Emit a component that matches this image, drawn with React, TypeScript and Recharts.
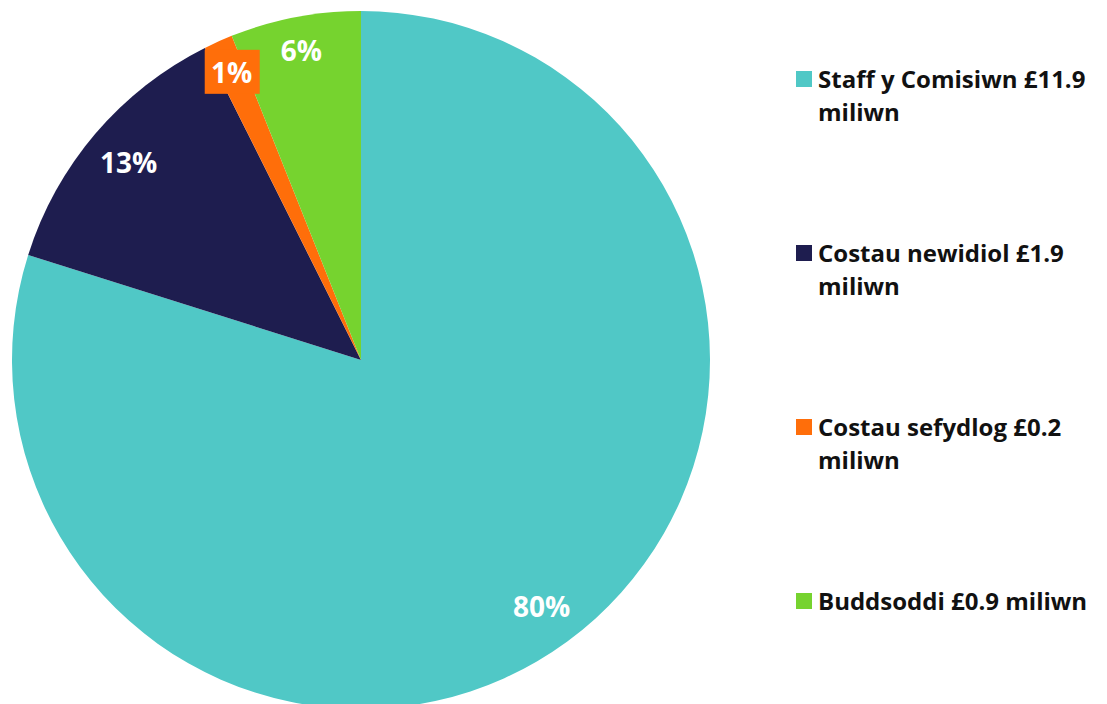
import { PieChart, Pie, Cell, Legend } from 'recharts';

const names = ['Staff y Comisiwn', 'Costau newidiol', 'Costau sefydlog', 'Buddsoddi'];
const values = [11.9, 1.9, 0.2, 0.9];
const colors = ['#50C8C6', '#1E1D4F', '#FF6E0A', '#76D32F'];

const data = names.map((name, i) => ({ name, value: values[i] }));

const FONT = '"Open Sans", Lato, sans-serif';
const RADIAN = Math.PI / 180;

function renderLabel(props: any) {
  const { cx, cy, midAngle, outerRadius, percent, index } = props;
  const r = outerRadius * (percent < 0.1 ? 0.905 : 0.875);
  const x = cx + r * Math.cos(-midAngle * RADIAN);
  const y = cy + r * Math.sin(-midAngle * RADIAN);
  const text = `${Math.round(percent * 100)}%`;
  const small = percent < 0.03;
  return (
    <g>
      {small && <rect x={x - 27} y={y - 22} width={55} height={44} fill={colors[index]} />}
      <text
        x={x}
        y={y}
        fill="#ffffff"
        textAnchor="middle"
        dominantBaseline="central"
        fontFamily={FONT}
        fontWeight={700}
        fontSize={28}
      >
        {text}
      </text>
    </g>
  );
}

function renderLegend() {
  return (
    <div style={{ fontFamily: FONT, fontWeight: 700, fontSize: 24, color: '#111', lineHeight: '33px' }}>
      {data.map((d, i) => (
        <div key={d.name} style={{ display: 'flex', alignItems: 'flex-start', height: 174 }}>
          <span
            style={{
              display: 'inline-block',
              width: 16,
              height: 16,
              background: colors[i],
              marginTop: 9,
              marginRight: 6,
              flex: '0 0 auto',
            }}
          />
          <span>
            {d.name} £{d.value} miliwn
          </span>
        </div>
      ))}
    </div>
  );
}

export default function App() {
  return (
    <PieChart width={1099} height={696} margin={{ top: 0, right: 0, bottom: 0, left: 0 }}>
      <Pie
        data={data}
        dataKey="value"
        nameKey="name"
        cx={353}
        cy={352}
        outerRadius={349}
        startAngle={90}
        endAngle={-270}
        stroke="none"
        labelLine={false}
        label={renderLabel}
        isAnimationActive={false}
      >
        {data.map((d, i) => (
          <Cell key={d.name} fill={colors[i]} />
        ))}
      </Pie>
      <Legend
        content={renderLegend}
        layout="vertical"
        wrapperStyle={{ position: 'absolute', left: 788, top: 54, width: 311 }}
      />
    </PieChart>
  );
}
